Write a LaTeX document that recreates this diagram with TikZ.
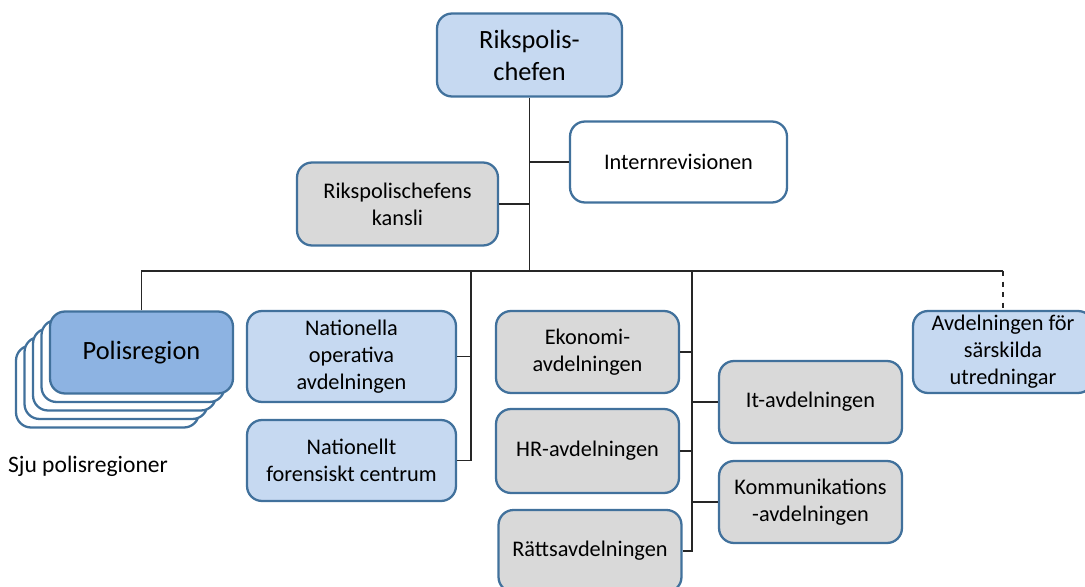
\documentclass[tikz,border=0pt]{standalone}
\usepackage{fontspec}
\setmainfont{Carlito}
\usepackage{tikz}
\usepackage{xcolor}
\usetikzlibrary{positioning, calc}
\definecolor{OrgBorder}{HTML}{41719C}
\definecolor{OrgBlue}{HTML}{C6D9F1}
\definecolor{OrgBlueDark}{HTML}{8DB3E2}
\definecolor{OrgGrey}{HTML}{D9D9D9}
\definecolor{OrgWhite}{HTML}{FFFFFF}
\tikzset{
    % Box styles with rounded corners
    unit/.style={
        rectangle,
        rounded corners=0.3cm,
        draw=OrgBorder,
        fill=OrgWhite,
        line width=1.3pt,
        minimum width=3.66cm,
        minimum height=1.64cm,
        align=center,
        inner sep=2pt,
        font=\fontsize{12.7}{15.4}\selectfont
    },
    unit blue/.style={
        unit,
        fill=OrgBlue
    },
    unit grey/.style={
        unit,
        fill=OrgGrey
    },
    unit region/.style={
        unit,
        fill=OrgBlueDark,
        font=\fontsize{15}{18.2}\selectfont
    },
    link/.style={
        line width=0.75pt,
        black!85
    }
}

\begin{document}
\begin{tikzpicture}[x=0.02cm, y=-0.02cm]
        \useasboundingbox (0,0) rectangle (1085,587);

        % Top of the organisation
        \node[unit blue, minimum width=3.7cm, minimum height=1.66cm,
              font=\fontsize{15}{18.2}\selectfont] (chief) at (529.5,55) {Rikspolis-\\chefen};

        % Staff units
        \node[unit, minimum width=4.34cm, minimum height=1.62cm] (intrev) at (678.5,162) {Internrevisionen};
        \node[unit grey, minimum width=4.02cm, minimum height=1.66cm] (kansli) at (397.5,204) {Rikspolischefens\\kansli};

        % Police regions (stack of seven)
        \foreach \k in {4,...,1} {
            \node[unit] (polis\k) at ({141.5-8.5*\k},{352.5+8.5*\k}) {};
        }
        \node[unit region] (polis) at (141.5,352.5) {Polisregion};
        \node (sju) at (88,466) {\fontsize{13.4}{16}\selectfont Sju polisregioner};

        % National operative units
        \node[unit blue, minimum width=4.18cm, minimum height=1.82cm] (natop) at (351.5,356.5) {Nationella\\operativa\\avdelningen};
        \node[unit blue, minimum width=4.18cm, minimum height=1.62cm] (natfor) at (351.5,460.5) {Nationellt\\forensiskt centrum};

        % Administrative units
        \node[unit grey] (ekon) at (587.5,352) {Ekonomi-\\avdelningen};
        \node[unit grey, minimum height=1.68cm] (hr) at (587.5,451) {HR-avdelningen};
        \node[unit grey] (ratts) at (590,551) {Rättsavdelningen};
        \node[unit grey] (it) at (810.5,402) {It-avdelningen};
        \node[unit grey] (komm) at (810.5,502) {Kommunikations\\-avdelningen};

        % Special investigations
        \node[unit blue, minimum width=3.6cm] (avd) at (1003,352) {Avdelningen för\\särskilda\\utredningar};

        % Branch points on the bus
        \coordinate (bus) at (529.5,271);
        \coordinate (natbus) at (471,271);
        \coordinate (admbus) at (692,271);

        \draw[link] (chief.south) -- (bus);
        \draw[link] (intrev.west) -- (intrev.west -| chief.south);
        \draw[link] (kansli.east) -- (kansli.east -| chief.south);
        \draw[link] (polis.north) |- (avd.north |- bus);
        \draw[link, dashed] (avd.north |- bus) -- (avd.north);

        \draw[link] (natbus) |- (natfor.east);
        \draw[link] (natop.east) -- (natop.east -| natbus);

        \draw[link] (admbus) |- (ratts.east);
        \draw[link] (ekon.east) -- (ekon.east -| admbus);
        \draw[link] (hr.east) -- (hr.east -| admbus);
        \draw[link] (it.west) -- (it.west -| admbus);
        \draw[link] (komm.west) -- (komm.west -| admbus);
    \end{tikzpicture}
\end{document}
